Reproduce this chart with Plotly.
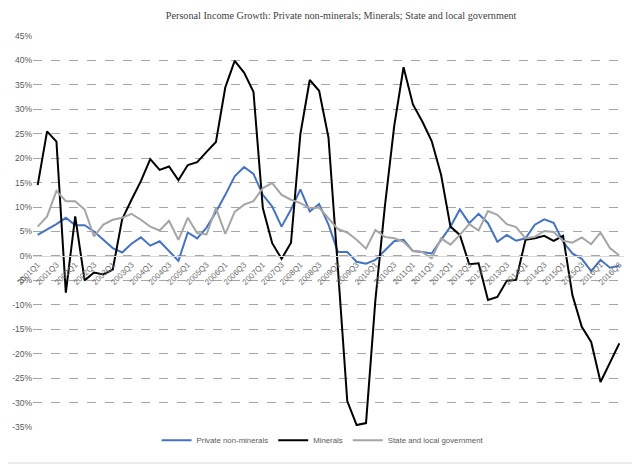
import plotly.graph_objects as go

# quarterly categories 2001Q1 .. 2016Q3
quarters = [f"{y}Q{q}" for y in range(2001, 2017) for q in (1, 2, 3, 4)][:63]

# growth rates, percent
private = [4.3, 5.4, 6.5, 7.8, 6.3, 6.3, 5.0, 3.3, 1.6, 0.7,
           2.5, 3.8, 2.1, 3.0, 1.1, -1.0, 4.8, 3.6, 5.8, 9.0,
           12.5, 16.3, 18.2, 16.8, 12.5, 10.1, 6.0, 9.5, 13.6, 9.1,
           10.6, 6.4, 0.8, 0.8, -1.2, -1.6, -0.8, 1.2, 3.0, 3.3,
           1.0, 0.8, 0.5, 3.3, 6.0, 9.5, 6.7, 8.6, 6.7, 2.9,
           4.3, 3.1, 3.6, 6.4, 7.5, 6.8, 2.9, 0.5, -0.6, -3.1,
           -0.8, -2.4, -2.0]

minerals = [14.5, 25.5, 23.4, -7.5, 8.1, -5.0, -3.4, -3.8, -2.8, 7.5,
            11.5, 15.3, 19.8, 17.6, 18.3, 15.5, 18.6, 19.2, 21.3, 23.3,
            34.5, 39.9, 37.5, 33.6, 9.8, 2.6, -0.6, 2.7, 24.9, 36.0,
            33.8, 24.2, -2.5, -29.7, -34.6, -34.2, -9.0, 10.0, 26.5, 38.6,
            31.0, 27.5, 23.5, 16.6, 6.0, 4.3, -1.7, -1.5, -9.0, -8.4,
            -5.1, -4.9, 3.3, 3.6, 4.1, 3.1, 4.1, -8.0, -14.5, -17.6,
            -25.8, -21.7, -17.9]

state = [6.0, 8.1, 13.3, 11.2, 11.2, 9.5, 4.0, 6.4, 7.4, 7.8,
         8.6, 7.4, 6.0, 5.2, 7.2, 3.3, 7.8, 4.7, 4.4, 9.8,
         4.5, 9.0, 10.5, 11.2, 13.9, 14.9, 12.5, 11.5, 10.8, 9.8,
         9.9, 7.7, 5.5, 4.8, 3.3, 1.5, 5.3, 3.9, 3.6, 2.9,
         1.0, 0.8, -0.5, 3.6, 2.3, 4.3, 6.5, 5.2, 9.2, 8.4,
         6.5, 5.9, 3.6, 3.9, 5.1, 4.9, 3.1, 2.7, 3.8, 2.4,
         4.8, 1.6, 0.1]

yticks = list(range(-35, 50, 5))

fig = go.Figure()
fig.add_trace(go.Scatter(x=quarters, y=private, name="Private non-minerals",
                         mode="lines", line=dict(color="#4472C4", width=2)))
fig.add_trace(go.Scatter(x=quarters, y=minerals, name="Minerals",
                         mode="lines", line=dict(color="#000000", width=2)))
fig.add_trace(go.Scatter(x=quarters, y=state, name="State and local government",
                         mode="lines", line=dict(color="#A5A5A5", width=2)))

grey = "#595959"
# page body adds an 8px offset, so the figure is a bit smaller than the window
fig.update_layout(
    width=632, height=456,
    margin=dict(l=25, r=16, t=28, b=37, autoexpand=False),
    paper_bgcolor="white", plot_bgcolor="white",
    title=dict(text="Personal Income Growth: Private non-minerals; Minerals; State and local government",
               x=0.527, xanchor="center", y=1 - 7 / 456, yanchor="middle",
               font=dict(family="Liberation Serif", size=10.2, color="#404040")),
    legend=dict(orientation="h", x=0.49, xanchor="center", y=-0.034, yanchor="middle",
                font=dict(family="Liberation Sans", size=7.8, color=grey),
                itemwidth=30, tracegroupgap=0),
    showlegend=True,
)
fig.update_xaxes(
    type="category", categoryorder="array", categoryarray=quarters,
    range=[-0.5, len(quarters) - 0.5],
    tickvals=quarters[::2], ticktext=quarters[::2], tickangle=-45,
    tickfont=dict(family="Liberation Sans", size=8, color="#6E6E6E"),
    showgrid=False, showline=True, linecolor="#D9D9D9", linewidth=1,
    ticks="", anchor="free", position=35 / 80, automargin=False,
)
fig.update_yaxes(
    range=[-35, 45], tickvals=yticks, ticktext=[f"{v}%" for v in yticks],
    tickfont=dict(family="Liberation Sans", size=8.5, color=grey),
    showgrid=True, gridcolor="#A6A6A6", griddash="dash", gridwidth=1,
    zeroline=False, showline=False, ticks="", automargin=False,
)
# light chart border
fig.add_shape(type="rect", xref="paper", yref="paper",
              x0=-32.5 / 591, x1=1 + 15 / 591, y0=-36 / 391, y1=1 + 35.5 / 391,
              line=dict(color="#D9D9D9", width=1), layer="below")

fig.write_html("out.html")
